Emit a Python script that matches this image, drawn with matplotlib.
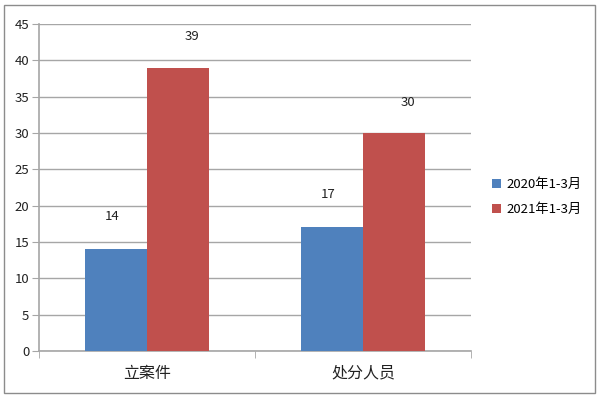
import matplotlib
matplotlib.use('Agg')

import matplotlib.pyplot as plt
import numpy as np
from matplotlib.patches import Rectangle

plt.rcParams['font.family'] = ['Noto Sans CJK SC', 'DejaVu Sans']

CATEGORIES = ["立案件", "处分人员"]
SERIES_NAMES = ["2020年1-3月", "2021年1-3月"]
VALUES_2020 = [14, 17]
VALUES_2021 = [39, 30]
Y_TICKS = [0, 5, 10, 15, 20, 25, 30, 35, 40, 45]

COLORS = ["#4F81BD", "#C0504D"]
GRID_COLOR = "#A6A6A6"
BAR_WIDTH = 0.287

fig = plt.figure(figsize=(6, 4), dpi=100)
ax = fig.add_axes([0.065, 0.1225, 0.72, 0.8175])

x = np.arange(len(CATEGORIES))
series = [VALUES_2020, VALUES_2021]
label_dx = [-4, 14]  # excel-ish label offsets (pixels)
label_dy = [33, 31]

for i, (vals, name) in enumerate(zip(series, SERIES_NAMES)):
    pos = x + (i - 0.5) * BAR_WIDTH
    ax.bar(pos, vals, BAR_WIDTH, color=COLORS[i], label=name, zorder=3)
    for px, v in zip(pos, vals):
        ax.annotate(str(v), (px, v), xytext=(label_dx[i], label_dy[i]),
                    textcoords="offset pixels", ha="center", va="center",
                    fontsize=9.5, color="#222222")

ax.set_xlim(-0.5, len(CATEGORIES) - 0.5)
ax.set_ylim(0, 45)
ax.set_yticks(Y_TICKS)
ax.set_yticklabels([str(t) for t in Y_TICKS], fontsize=9.5, color="#222222")
ax.grid(axis="y", color=GRID_COLOR, linewidth=1, zorder=0)

ax.set_xticks(x)
ax.set_xticklabels(CATEGORIES, fontsize=11.5, color="#222222")
ax.tick_params(axis="x", length=0, pad=10)
ax.set_xticks([-0.5, 0.5, 1.5], minor=True)
ax.tick_params(axis="x", which="minor", length=5, color=GRID_COLOR, direction="out")
ax.tick_params(axis="y", length=5, color=GRID_COLOR, pad=2)

for s in ["top", "right"]:
    ax.spines[s].set_visible(False)
for s in ["left", "bottom"]:
    ax.spines[s].set_color(GRID_COLOR)
    ax.spines[s].set_linewidth(1.2)

ax.legend(loc="center left", bbox_to_anchor=(1.02, 0.47), frameon=False,
          fontsize=9.5, handlelength=0.7, handleheight=0.7, handletextpad=0.4,
          labelspacing=0.9)

fig.patches.append(Rectangle((0.007, 0.017), 0.985, 0.97, transform=fig.transFigure,
                             fill=False, edgecolor="#8C8C8C", linewidth=1))

fig.savefig("out.png", dpi=100)
